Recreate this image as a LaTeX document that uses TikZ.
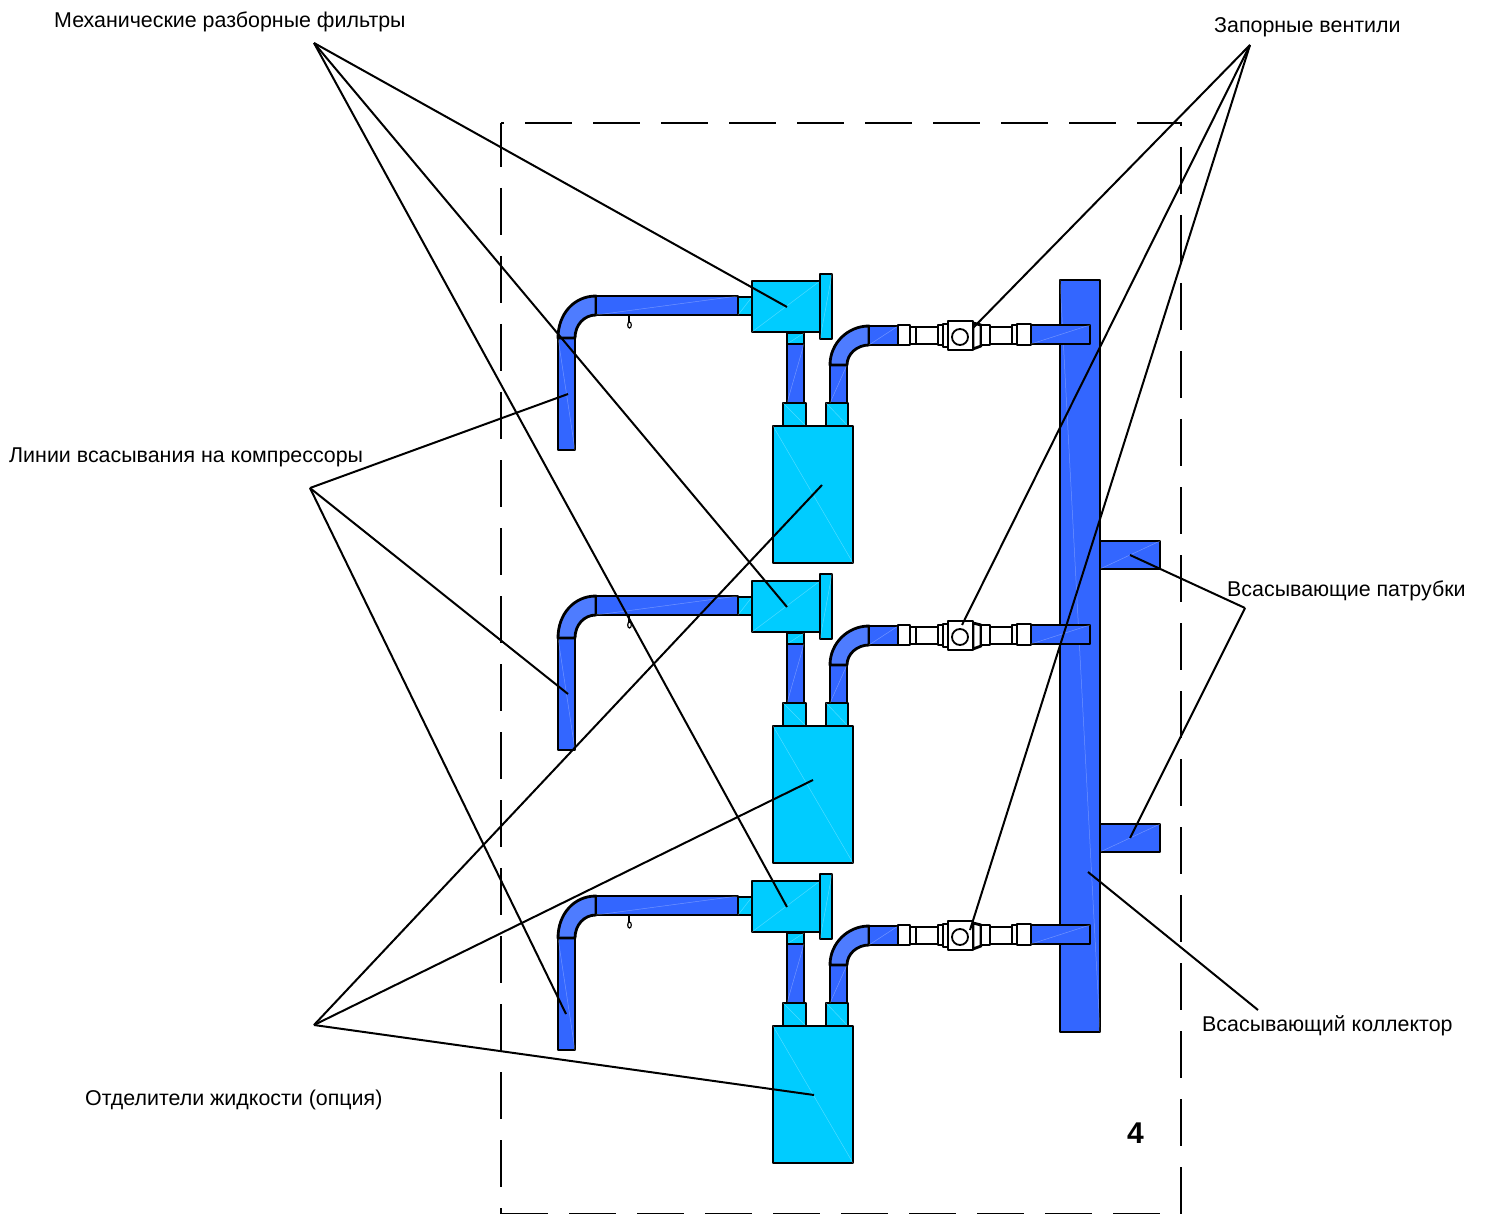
\documentclass[tikz,border=0pt]{standalone}
\usepackage{fontspec}
\setmainfont{Liberation Sans}
\definecolor{pipeblue}{RGB}{51,102,255}
\definecolor{bendblue}{RGB}{78,124,255}
\definecolor{partcyan}{RGB}{0,204,255}
\newcommand{\partbox}[5]{%
    \draw[part, fill=#1] (#2,#3) rectangle (#4,#5);
    \draw[seam] (#2,#5) -- (#4,#3);
}
\newcommand{\partboxr}[5]{%
    \draw[part, fill=#1] (#2,#3) rectangle (#4,#5);
    \draw[seam] (#2,#3) -- (#4,#5);
}
\begin{document}
\begin{tikzpicture}[
        x=1pt, y=-1pt,
        font=\fontsize{21.4}{26}\selectfont,
        part/.style={draw=black, line width=2.8pt, line join=round},
        seam/.style={white, opacity=0.3, line width=0.5pt},
        fitting/.style={part, fill=white},
        leader/.style={draw=black, line width=2pt},
        border/.style={draw=black, line width=2.8pt, dash pattern=on 47pt off 21pt},
        caption/.style={anchor=base west, inner sep=0pt}
    ]
        \useasboundingbox (0,0) rectangle (1486,1214);

        % dashed frame
        \draw[border, dash phase=44pt] (501,123) -- (1181,123) -- (1181,1214) -- (501,1214);
        \draw[border, dash phase=3pt] (501,123) -- (501,1214);

        % collector and its two nozzles
        \partbox{pipeblue}{1100}{541}{1160}{569}
        \partbox{pipeblue}{1100}{824}{1160}{852}
        \partboxr{pipeblue}{1060}{280}{1100}{1032}
        \coordinate (nozzleA) at (1130,555);
        \coordinate (nozzleB) at (1130,838);
        \coordinate (header) at (1088,872);

        % three identical branches
        \foreach \n/\dy in {a/0,b/300,c/600} {
            \begin{scope}[yshift=-\dy pt]
                % suction line
                \partboxr{pipeblue}{558}{338}{575}{450}
                \draw[part, fill=bendblue] (558,338) .. controls (558,314) and (574,296) .. (596,296) -- (596,315) .. controls (584,315) and (575,325) .. (575,338) -- cycle;
                \partbox{pipeblue}{596}{296}{738}{315}
                \draw[draw=black, line width=1.2pt] (629,316) -- (629,322);
                \draw[draw=black, line width=1.2pt, fill=white] (629.5,325) ellipse (1.8 and 3);
                \partbox{partcyan}{738}{297}{752}{315}
                % filter
                \partbox{partcyan}{787}{333}{804}{344}
                \partbox{partcyan}{752}{281}{820}{332}
                \partbox{partcyan}{820}{274}{832}{339}
                \partbox{pipeblue}{787}{344}{804}{403}
                % separator
                \partboxr{partcyan}{783}{403}{806}{426}
                \partboxr{partcyan}{826}{403}{848}{426}
                \partboxr{partcyan}{773}{426}{853}{563}
                \partbox{pipeblue}{830}{365}{847}{403}
                \draw[part, fill=bendblue] (830,365) .. controls (830,343) and (848,326) .. (869,326) -- (869,345) .. controls (857,345) and (847,354) .. (847,365) -- cycle;
                \partbox{pipeblue}{869}{326}{898}{345}
                % valve
                \draw[fitting] (898,325) rectangle (910,345);
                \draw[fitting] (910,327) rectangle (916,344);
                \draw[fitting] (916,327) rectangle (938,344);
                \draw[fitting] (938,325) rectangle (943,345);
                \draw[fitting] (943,324) rectangle (948,347);
                \draw[fitting] (973,323) -- (981,325) -- (981,346) -- (973,349) -- cycle;
                \draw[fitting] (981,325) rectangle (990,345);
                \draw[fitting] (990,327) rectangle (1012,344);
                \draw[fitting] (1012,325) rectangle (1017,344);
                \draw[fitting] (1017,324) rectangle (1031,345);
                \draw[fitting] (948,321) rectangle (973,350);
                \draw[part, line width=1.8pt] (960,337) circle (8);
                \partbox{pipeblue}{1031}{325}{1090}{344}
                % ends of the leader lines
                \coordinate (filter\n) at (787,307);
            \end{scope}
        }
        \coordinate (linea) at (568,394);
        \coordinate (lineb) at (568,694);
        \coordinate (linec) at (566,1014);
        \coordinate (tanka) at (822,485);
        \coordinate (tankb) at (813,780);
        \coordinate (tankc) at (814,1095);
        \coordinate (valvea) at (973,328);
        \coordinate (valveb) at (962,625);
        \coordinate (valvec) at (970,930);

        % captions
        \node[caption] (filters) at (54,27.5) {Механические разборные фильтры};
        \node[caption] (valves) at (1214,32.5) {Запорные вентили};
        \node[caption] (lines) at (9,462) {Линии всасывания на компрессоры};
        \node[caption] (tanks) at (85,1105) {Отделители жидкости (опция)};
        \node[caption] (nozzles) at (1227,596) {Всасывающие патрубки};
        \node[caption] (collector) at (1202,1031) {Всасывающий коллектор};
        \node[caption, font=\fontsize{30}{36}\selectfont\bfseries] (number) at (1127,1143) {4};

        % hubs of the leader lines
        \coordinate (filtersHub) at (314,43);
        \coordinate (valvesHub) at (1250,45);
        \coordinate (linesHub) at (310,488);
        \coordinate (tanksHub) at (314,1025);
        \coordinate (nozzlesHub) at (1245,608);
        \coordinate (collectorHub) at (1258,1010);

        \foreach \n in {a,b,c} {
            \draw[leader] (filtersHub) -- (filter\n);
            \draw[leader] (valvesHub) -- (valve\n);
            \draw[leader] (linesHub) -- (line\n);
            \draw[leader] (tanksHub) -- (tank\n);
        }
        \draw[leader] (nozzlesHub) -- (nozzleA);
        \draw[leader] (nozzlesHub) -- (nozzleB);
        \draw[leader] (collectorHub) -- (header);
    \end{tikzpicture}
\end{document}
